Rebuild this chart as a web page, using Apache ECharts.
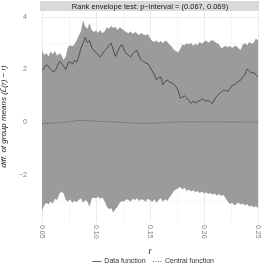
<!DOCTYPE html>
<html><head><meta charset="utf-8">
<script src="https://cdn.jsdelivr.net/npm/echarts@6/dist/echarts.min.js"></script>
<style>html,body{margin:0;padding:0;background:#fff}#c{width:270px;height:270px}</style>
</head><body><div id="c"></div>
<script>
const rValues = [0.050,0.052,0.054,0.056,0.058,0.060,0.062,0.064,0.066,0.068,
0.070,0.072,0.074,0.076,0.078,0.080,0.082,0.084,0.086,0.088,
0.090,0.092,0.094,0.096,0.098,0.100,0.102,0.104,0.106,0.108,
0.110,0.112,0.114,0.116,0.118,0.120,0.122,0.124,0.126,0.128,
0.130,0.132,0.134,0.136,0.138,0.140,0.142,0.144,0.146,0.148,
0.150,0.152,0.154,0.156,0.158,0.160,0.162,0.164,0.166,0.168,
0.170,0.172,0.174,0.176,0.178,0.180,0.182,0.184,0.186,0.188,
0.190,0.192,0.194,0.196,0.198,0.200,0.202,0.204,0.206,0.208,
0.210,0.212,0.214,0.216,0.218,0.220,0.222,0.224,0.226,0.228,
0.230,0.232,0.234,0.236,0.238,0.240,0.242,0.244,0.246,0.248,0.250];

const dataFunction = [1.98,2.05,2.18,2.12,2.00,1.92,1.95,2.10,2.30,2.25,
2.12,2.00,2.25,2.30,2.20,2.35,2.28,2.50,2.80,3.00,
3.22,3.02,3.10,2.85,2.72,2.65,2.55,2.48,2.60,2.72,
2.80,2.90,3.00,2.75,2.50,2.68,2.85,2.95,2.75,2.60,
2.55,2.48,2.60,2.68,2.72,2.50,2.36,2.30,2.25,2.22,
2.10,1.95,1.80,1.60,1.70,1.72,1.42,1.55,1.60,1.52,
1.50,1.45,1.35,1.22,0.92,0.95,1.00,0.92,0.82,0.72,
0.80,0.75,0.78,0.82,0.88,0.85,0.80,0.84,0.76,0.72,
0.88,1.00,1.08,1.15,1.22,1.20,1.16,1.28,1.40,1.42,
1.50,1.55,1.60,1.72,1.82,2.02,1.95,1.86,1.90,1.80,1.73];

const centralFunction = [-0.05,-0.05,-0.04,-0.04,-0.04,-0.03,-0.03,-0.02,-0.02,-0.01,
0.00,0.01,0.02,0.03,0.04,0.05,0.06,0.07,0.07,0.07,
0.07,0.06,0.06,0.05,0.05,0.04,0.04,0.03,0.03,0.03,
0.02,0.02,0.02,0.02,0.01,0.01,0.00,0.00,-0.01,-0.01,
-0.02,-0.02,-0.03,-0.03,-0.03,-0.04,-0.04,-0.04,-0.04,-0.04,
-0.04,-0.04,-0.03,-0.03,-0.03,-0.02,-0.02,-0.01,-0.01,0.00,
0.00,0.01,0.01,0.01,0.01,0.02,0.02,0.02,0.02,0.02,
0.02,0.02,0.02,0.02,0.02,0.02,0.02,0.02,0.02,0.02,
0.02,0.01,0.01,0.01,0.01,0.01,0.01,0.01,0.01,0.01,
0.01,0.01,0.01,0.01,0.01,0.01,0.01,0.01,0.01,0.01,0.01];

const upperEnvelope = [2.72,2.55,2.62,2.50,2.68,2.58,2.70,2.52,2.62,2.55,
2.36,2.50,2.85,2.92,2.88,2.95,3.10,3.28,3.45,3.86,
3.63,3.55,3.76,3.50,3.42,3.48,3.40,3.50,3.38,3.45,
3.60,3.55,3.65,3.58,3.62,3.50,3.60,3.55,3.48,3.42,
3.38,3.45,3.35,3.42,3.38,3.30,3.40,3.32,3.30,3.35,
3.20,3.08,3.05,3.10,3.02,3.08,3.00,3.10,3.05,2.95,
2.88,2.75,2.70,2.65,2.78,2.95,2.92,3.00,2.95,3.02,
2.90,2.98,2.92,3.05,2.98,3.05,3.10,3.02,3.08,3.12,
3.05,3.00,2.95,2.82,2.85,2.90,2.85,2.90,2.82,2.88,
2.90,2.80,2.75,2.95,3.00,2.92,3.05,2.98,3.02,3.18,3.10];

const lowerEnvelope = [-3.35,-3.15,-3.05,-3.12,-3.00,-3.08,-2.90,-2.95,-2.72,-2.62,
-2.70,-2.95,-3.00,-2.92,-3.05,-2.98,-3.02,-2.95,-2.88,-3.05,
-2.95,-3.00,-3.20,-2.90,-2.85,-2.88,-2.82,-2.90,-2.85,-3.00,
-3.20,-3.30,-3.25,-3.42,-3.30,-3.20,-3.05,-2.98,-3.00,-2.92,
-2.95,-3.00,-2.90,-2.95,-2.88,-2.98,-2.92,-2.95,-3.00,-2.90,
-2.95,-3.02,-2.92,-3.05,-2.95,-2.88,-3.00,-2.92,-2.98,-2.85,
-2.75,-2.60,-2.55,-2.50,-2.45,-2.55,-2.48,-2.60,-2.55,-2.62,
-2.58,-2.65,-2.60,-2.68,-2.62,-2.70,-2.65,-2.72,-2.68,-2.75,
-2.70,-2.78,-2.72,-2.80,-2.75,-2.88,-3.00,-3.10,-3.05,-3.15,
-3.10,-3.05,-3.12,-3.08,-3.15,-3.10,-3.20,-3.15,-3.22,-3.18,-3.25];

const xTicks = [0.05,0.10,0.15,0.20,0.25];
const yTicks = [-2,0,2,4];
const yGridValues = [-3,-2,-1,0,1,2,3,4];

const stripText = 'Rank envelope test: p\u2212interval = (0.067, 0.069)';
const yTitle = 'diff. of group means (L\u0302(r) \u2212 r)';

const pair = arr => rValues.map((r,i)=>[r,arr[i]]);

const FONT = 'Liberation Sans, Arial, sans-serif';
const GL = 42, GR = 258, GT = 11, GB = 222;

function renderEnvelope(params, api){
  const pts = [];
  for (let i=0;i<rValues.length;i++) pts.push(api.coord([rValues[i], upperEnvelope[i]]));
  for (let i=rValues.length-1;i>=0;i--) pts.push(api.coord([rValues[i], lowerEnvelope[i]]));
  return {type:'polygon', shape:{points:pts}, style:{fill:'#9b9b9b', stroke:null}};
}

const chart = echarts.init(document.getElementById('c'), null, {renderer:'canvas'});
chart.setOption({
  animation:false,
  backgroundColor:'#ffffff',
  textStyle:{fontFamily:FONT},
  grid:{left:GL, right:270-GR, top:GT, bottom:270-GB, containLabel:false, outerBoundsMode:'none'},
  xAxis:{
    type:'value', min:0.05, max:0.25, interval:0.05,
    name:'r', nameLocation:'middle', nameGap:19,
    nameTextStyle:{fontStyle:'italic', fontSize:9, color:'#222', fontFamily:FONT},
    axisLine:{show:false}, axisTick:{show:false},
    axisLabel:{rotate:-90, fontSize:7, color:'#7f7f7f', margin:3, formatter:v=>v.toFixed(2), fontFamily:FONT},
    splitLine:{show:true, lineStyle:{color:'#ebebeb', width:1}},
    minorTick:{show:false, splitNumber:2},
    minorSplitLine:{show:true, lineStyle:{color:'#f5f5f5', width:1}}
  },
  yAxis:{
    type:'value', min:-3.78, max:4.22,
    name:yTitle, nameLocation:'middle', nameGap:25,
    nameTextStyle:{fontStyle:'italic', fontSize:8, color:'#222', fontFamily:FONT},
    axisLine:{show:false},
    axisTick:{show:false, customValues:yGridValues},
    axisLabel:{fontSize:7, color:'#7f7f7f', margin:15, customValues:yTicks,
      formatter:v=> v<0 ? '\u2212'+Math.abs(v) : String(v), fontFamily:FONT},
    splitLine:{show:true, lineStyle:{color:['#f5f5f5','#ebebeb'], width:1}}
  },
  legend:{
    bottom:5, left:92, padding:0, data:['Data function','Central function'],
    itemWidth:9, itemHeight:6, itemGap:7,
    itemStyle:{opacity:0},
    lineStyle:{width:0.7},
    textStyle:{fontSize:7, color:'#333', fontFamily:FONT, padding:[0,0,0,-2]}
  },
  graphic:[
    {type:'rect', shape:{x:GL-2, y:1, width:GR-GL+3, height:10}, style:{fill:'#d9d9d9'}, z:10},
    {type:'text', x:(GL+GR)/2, y:6.5, style:{text:stripText, fill:'#1a1a1a', font:'7.5px '+FONT, align:'center', verticalAlign:'middle'}, z:11}
  ],
  series:[
    {name:'envelope', type:'custom', data:[[0.15,0]], renderItem:renderEnvelope, silent:true, z:1},
    {name:'Data function', type:'line', data:pair(dataFunction), symbol:'none',
     lineStyle:{color:'#1a1a1a', width:0.6}, itemStyle:{color:'#1a1a1a'}, z:5},
    {name:'Central function', type:'line', data:pair(centralFunction), symbol:'none',
     lineStyle:{color:'#333333', width:0.7, type:[1,1.5]}, itemStyle:{color:'#333333'}, z:5}
  ]
});
</script></body></html>
